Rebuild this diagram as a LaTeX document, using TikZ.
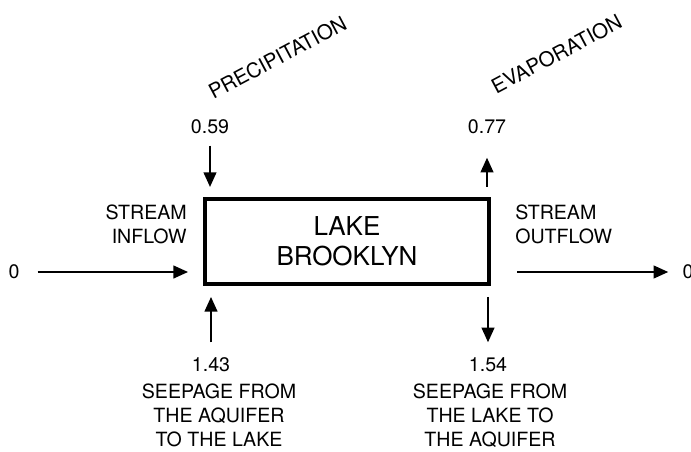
\documentclass[tikz,border=0pt]{standalone}
\usepackage{fontspec}
\setmainfont{TeX Gyre Heros}
\usetikzlibrary{positioning, arrows.meta}

\begin{document}
\begin{tikzpicture}[
  x=0.75pt, y=-0.75pt,
  lakebox/.style={draw, line width=3.4pt, minimum width=213pt, minimum height=63.75pt,
                  align=center, font=\fontsize{19.5}{22.5}\selectfont},
  val/.style={inner sep=0pt, font=\fontsize{14.7}{18}\selectfont},
  lbl/.style={inner sep=0pt, align=center, font=\fontsize{14.7}{18}\selectfont},
  slant/.style={inner sep=0pt, rotate=28, font=\fontsize{15.3}{18}\selectfont},
  flow/.style={-{Triangle[length=11pt, width=9.5pt]}, line width=1.6pt},
]
\useasboundingbox (0,0) rectangle (691,452);

% === Nodes ===

% Lake
\node[lakebox] (lake) at (347,241.5) {LAKE\\BROOKLYN};

% Stream in and out
\node[val] (inval) at (14,272) {0};
\node[val] (outval) at (688,272) {0};
\node[lbl, align=right, anchor=east] (inlbl) at (187,224) {STREAM\\INFLOW};
\node[lbl, align=left, anchor=west] (outlbl) at (515,224) {STREAM\\OUTFLOW};

% Precipitation and evaporation
\node[val] (precval) at (210,127) {0.59};
\node[val] (evapval) at (487,127) {0.77};
\node[slant] (preclbl) at (277.5,57.5) {PRECIPITATION};
\node[slant] (evaplbl) at (556.5,54) {EVAPORATION};

% Seepage
\node[val] (seepinval) at (211,365) {1.43};
\node[val] (seepoutval) at (488,365) {1.54};
\node[lbl, below=8.5pt of seepinval, xshift=6pt] (seepinlbl) {SEEPAGE FROM\\THE AQUIFER\\TO THE LAKE};
\node[lbl, below=8.5pt of seepoutval, xshift=1.5pt] (seepoutlbl) {SEEPAGE FROM\\THE LAKE TO\\THE AQUIFER};

% === Arrows ===
\draw[flow, shorten <=13.5pt, shorten >=11pt] (inval.east) -- (inval.east -| lake.west);
\draw[flow, shorten <=19.3pt, shorten >=10.5pt] (lake.east |- outval) -- (outval.west);

\draw[flow, shorten <=8.5pt, shorten >=7.3pt] (precval.south) -- (precval.south |- lake.north);
\draw[flow, shorten <=7.3pt, shorten >=17.5pt] (evapval.south |- lake.north) -- (evapval.south);

\draw[flow, shorten <=11.5pt, shorten >=8pt] (seepinval.north) -- (seepinval.north |- lake.south);
\draw[flow, shorten <=8pt, shorten >=11.5pt] (seepoutval.north |- lake.south) -- (seepoutval.north);

\end{tikzpicture}
\end{document}
